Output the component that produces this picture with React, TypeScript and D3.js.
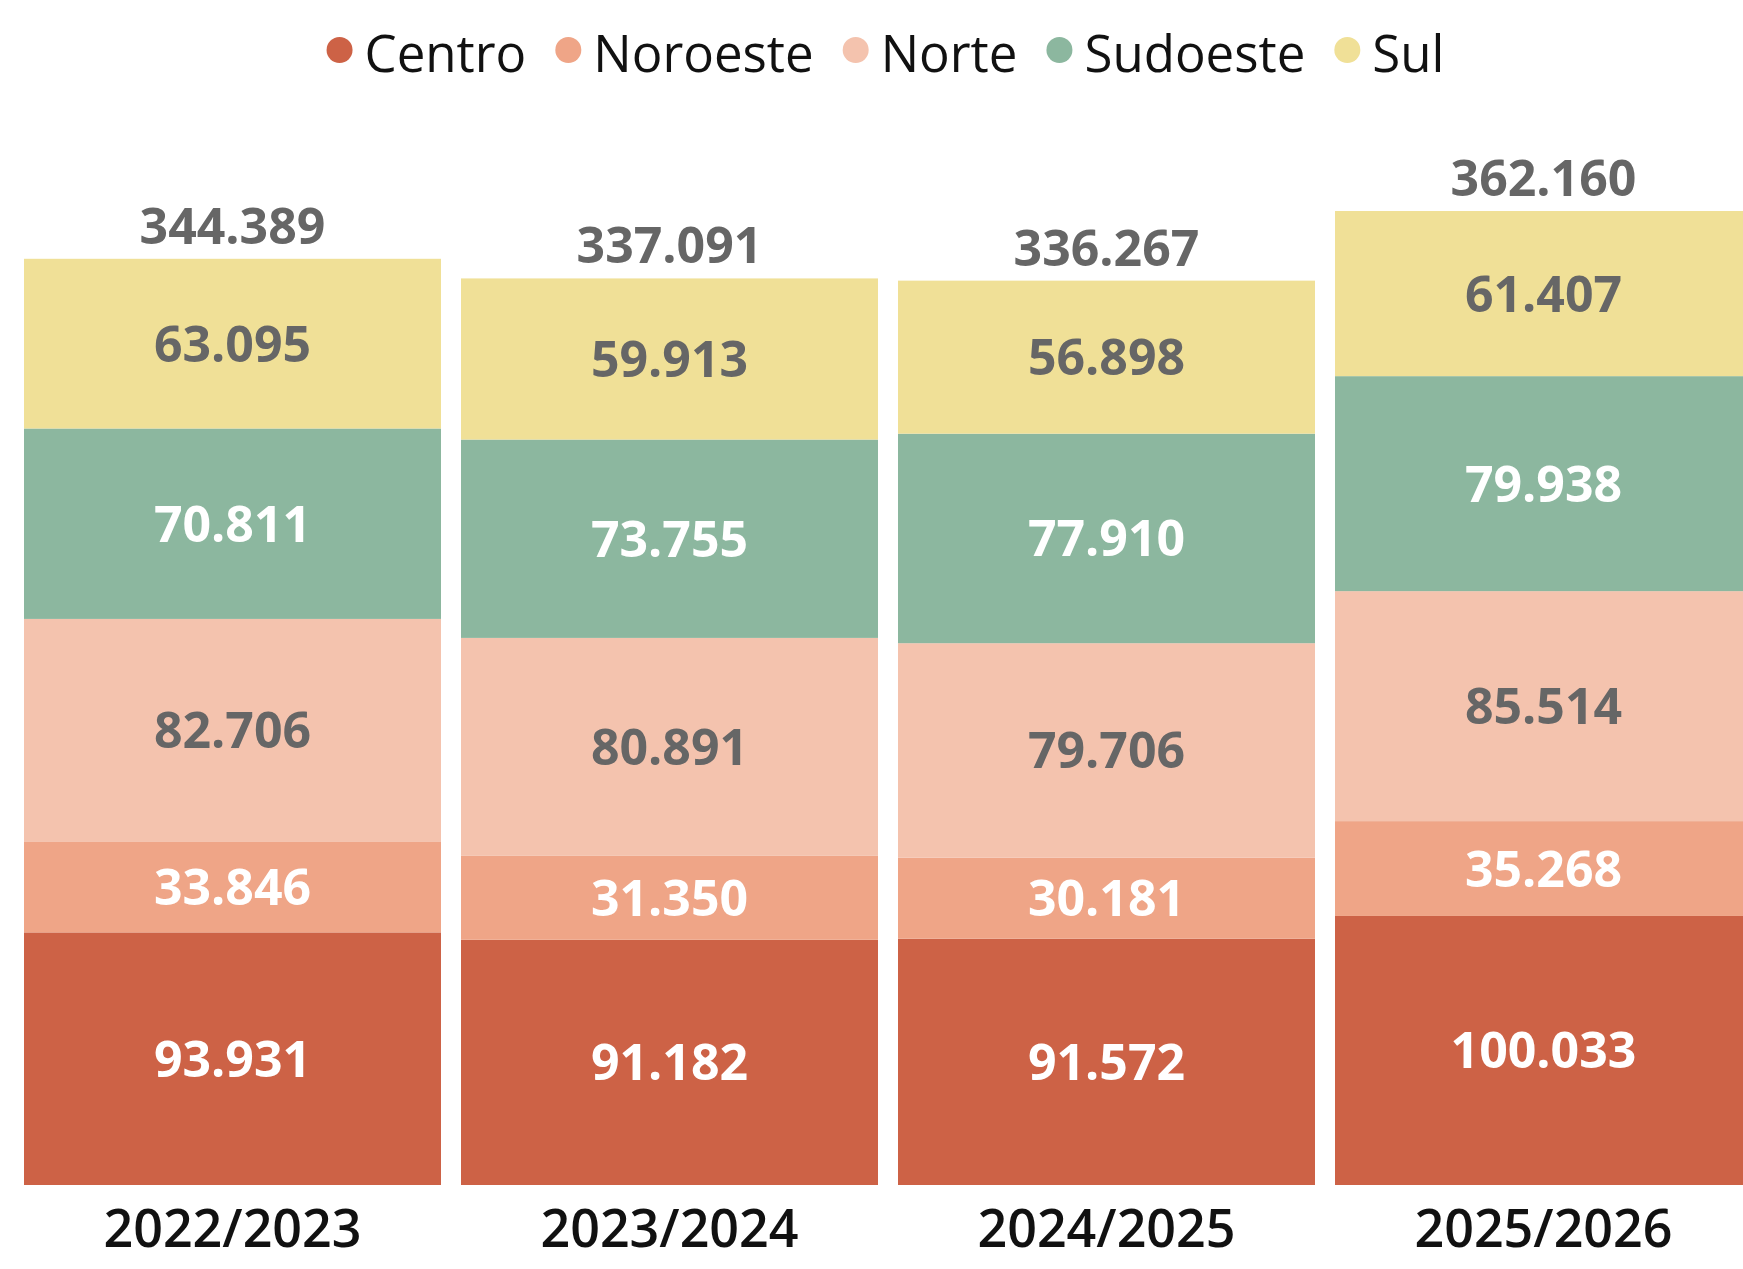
import * as d3 from 'd3';
import React, { Component } from 'react';

const categories = ['2022/2023', '2023/2024', '2024/2025', '2025/2026'];
const seriesNames = ['Centro', 'Noroeste', 'Norte', 'Sudoeste', 'Sul'];
const centro = [93931, 91182, 91572, 100033];
const noroeste = [33846, 31350, 30181, 35268];
const norte = [82706, 80891, 79706, 85514];
const sudoeste = [70811, 73755, 77910, 79938];
const sul = [63095, 59913, 56898, 61407];

const colors = ['#cd6246', '#efa587', '#f4c3ae', '#8cb79f', '#f0e097'];
const labelColors = ['#ffffff', '#ffffff', '#666666', '#ffffff', '#666666'];

class StackedChart extends Component {
    id: string;
    width: number;
    height: number;
    svg: any;

    constructor(props) {
        super(props);
        this.id = 'chart-1';
        this.width = 1743;
        this.height = 1269;
    }

    componentDidMount() {
        document.body.style.margin = '0';
        document.body.style.overflow = 'hidden';
        this.create();
        this.draw();
    }

    create() {
        this.svg = d3.select('#' + this.id)
            .append('svg')
            .attr('width', this.width)
            .attr('height', this.height)
            .style('display', 'block')
            .style('font-family', '"Open Sans", sans-serif');
    }

    draw() {
        const svg = this.svg;
        const all = [centro, noroeste, norte, sudoeste, sul];
        const table = categories.map((c, i) => {
            const row: any = { cat: c };
            seriesNames.forEach((s, j) => { row[s] = all[j][i]; });
            return row;
        });
        const totals = table.map(r => d3.sum(seriesNames, s => r[s]));

        const fmt = d3.formatLocale({ decimal: ',', thousands: '.', grouping: [3], currency: ['', ''] }).format(',d');

        const x = d3.scaleBand()
            .domain(categories)
            .range([24, 1752])
            .paddingInner(20 / 437)
            .paddingOuter(0);

        const y = d3.scaleLinear()
            .domain([0, d3.max(totals)])
            .range([1185, 211]);

        const stack = d3.stack().keys(seriesNames);
        const layers = stack(table);

        const g = svg.append('g');
        layers.forEach((layer, li) => {
            const lg = g.append('g');
            lg.selectAll('rect')
                .data(layer)
                .enter()
                .append('rect')
                .attr('x', d => x(d.data.cat))
                .attr('y', d => y(d[1]))
                .attr('width', x.bandwidth())
                .attr('height', d => y(d[0]) - y(d[1]))
                .attr('fill', colors[li]);

            lg.selectAll('text')
                .data(layer)
                .enter()
                .append('text')
                .attr('x', d => x(d.data.cat) + x.bandwidth() / 2)
                .attr('y', d => (y(d[0]) + y(d[1])) / 2 + 18)
                .attr('text-anchor', 'middle')
                .style('font-size', '50px')
                .style('font-weight', 700)
                .attr('fill', labelColors[li])
                .text(d => fmt(d[1] - d[0]));
        });

        // Totals above bars
        svg.append('g')
            .selectAll('text')
            .data(table)
            .enter()
            .append('text')
            .attr('x', d => x(d.cat) + x.bandwidth() / 2)
            .attr('y', (d, i) => y(totals[i]) - 15)
            .attr('text-anchor', 'middle')
            .style('font-size', '50px')
            .style('font-weight', 700)
            .attr('fill', '#666666')
            .text((d, i) => fmt(totals[i]));

        // Category labels
        svg.append('g')
            .selectAll('text')
            .data(categories)
            .enter()
            .append('text')
            .attr('x', d => x(d) + x.bandwidth() / 2)
            .attr('y', 1247)
            .attr('text-anchor', 'middle')
            .style('font-size', '52px')
            .style('font-weight', 600)
            .attr('fill', '#111111')
            .text(d => d);

        // Legend
        const legend = svg.append('g');
        let cx = 0;
        seriesNames.forEach((s, i) => {
            const item = legend.append('g').attr('transform', 'translate(' + cx + ',0)');
            item.append('circle')
                .attr('cx', 13)
                .attr('cy', 50)
                .attr('r', 13)
                .attr('fill', colors[i]);
            const t = item.append('text')
                .attr('x', 38)
                .attr('y', 72)
                .style('font-size', '51px')
                .attr('fill', '#111111')
                .text(s);
            const w = t.node().getComputedTextLength();
            cx += 38 + w + 29;
        });
        const legendWidth = cx - 29;
        legend.attr('transform', 'translate(' + (885.5 - legendWidth / 2) + ',0)');
    }

    render() {
        return <div id={this.id}></div>;
    }
}

export default function App() {
    return <StackedChart />;
}
